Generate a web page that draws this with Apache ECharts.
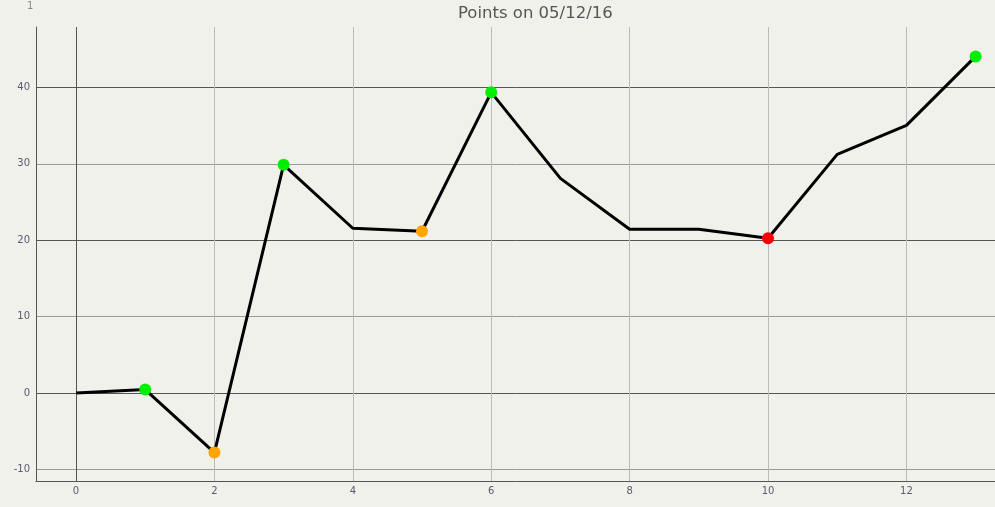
<!DOCTYPE html>
<html>
<head>
<meta charset="utf-8">
<script src="https://cdn.jsdelivr.net/npm/echarts@6/dist/echarts.min.js"></script>
<style>
html,body{margin:0;padding:0;background:#f1f1ec;}
#chart{width:995px;height:507px;}
</style>
</head>
<body>
<div id="chart"></div>
<script>
const titleText = 'Points on 05/12/16';
const cornerText = '1';
const xValues = [0, 1, 2, 3, 4, 5, 6, 7, 8, 9, 10, 11, 12, 13];
const yValues = [0, 0.46, -7.78, 29.87, 21.57, 21.18, 39.35, 28.1, 21.44, 21.44, 20.26, 31.24, 35.03, 44.05];
const markerColors = [null, '#00ee00', '#ffa500', '#00ee00', null, '#ffa500', '#00ee00', null, null, null, '#ff0000', null, null, '#00ee00'];
const xRange = [-0.578, 13.28];
const yRange = [-11.5, 47.9];
const xTickStep = 2;
const yMinorStep = 10;
const yMajorStep = 20;

const chart = echarts.init(document.getElementById('chart'), null, {renderer: 'canvas'});
const seriesData = xValues.map((x, i) => {
  const c = markerColors[i];
  return c ? {value: [x, yValues[i]], symbol: 'circle', symbolSize: 12, itemStyle: {color: c}}
           : {value: [x, yValues[i]], symbol: 'none'};
});
const labelStyle = {color: '#5a5a72', fontSize: 10, fontFamily: 'DejaVu Sans'};
chart.setOption({
  backgroundColor: '#f1f1ec',
  animation: false,
  title: [
    {text: titleText, left: 453, top: 0, textStyle: {color: '#555', fontSize: 16.5, fontWeight: 'normal', fontFamily: 'DejaVu Sans'}},
    {text: cornerText, left: 22, top: -4, textStyle: {color: '#888', fontSize: 10, fontWeight: 'normal', fontFamily: 'DejaVu Sans'}}
  ],
  grid: {left: 36, right: 0, top: 27, bottom: 26, containLabel: false},
  xAxis: [{
    type: 'value', min: xRange[0], max: xRange[1], minInterval: xTickStep, maxInterval: xTickStep,
    axisLine: {show: true, onZero: false, lineStyle: {color: '#555', width: 1}},
    axisTick: {show: false},
    axisLabel: Object.assign({margin: 5, showMinLabel: false, showMaxLabel: false}, labelStyle),
    splitLine: {show: true, showMinLine: false, showMaxLine: false, lineStyle: {color: '#bbbbbb', width: 1}}
  }],
  yAxis: [{
    type: 'value', min: yRange[0], max: yRange[1], minInterval: yMinorStep, maxInterval: yMinorStep,
    axisLine: {show: true, onZero: false, lineStyle: {color: '#555', width: 1}},
    axisTick: {show: false},
    axisLabel: Object.assign({margin: 6, showMinLabel: false, showMaxLabel: false}, labelStyle),
    splitLine: {show: true, showMinLine: false, showMaxLine: false, lineStyle: {color: '#9a9a9a', width: 1}}
  }, {
    type: 'value', min: yRange[0], max: yRange[1], minInterval: yMajorStep, maxInterval: yMajorStep,
    position: 'left',
    axisLine: {show: false}, axisTick: {show: false}, axisLabel: {show: false},
    splitLine: {show: true, showMinLine: false, showMaxLine: false, lineStyle: {color: '#555', width: 1}}
  }],
  series: [{
    type: 'line',
    xAxisIndex: 0, yAxisIndex: 0,
    data: seriesData,
    lineStyle: {color: '#000', width: 3},
    itemStyle: {borderWidth: 0},
    z: 5,
    markLine: {
      silent: true, symbol: 'none', label: {show: false},
      lineStyle: {color: '#555', width: 1, type: 'solid'},
      data: [{xAxis: 0}],
      z: 1
    }
  }]
});
</script>
</body>
</html>
